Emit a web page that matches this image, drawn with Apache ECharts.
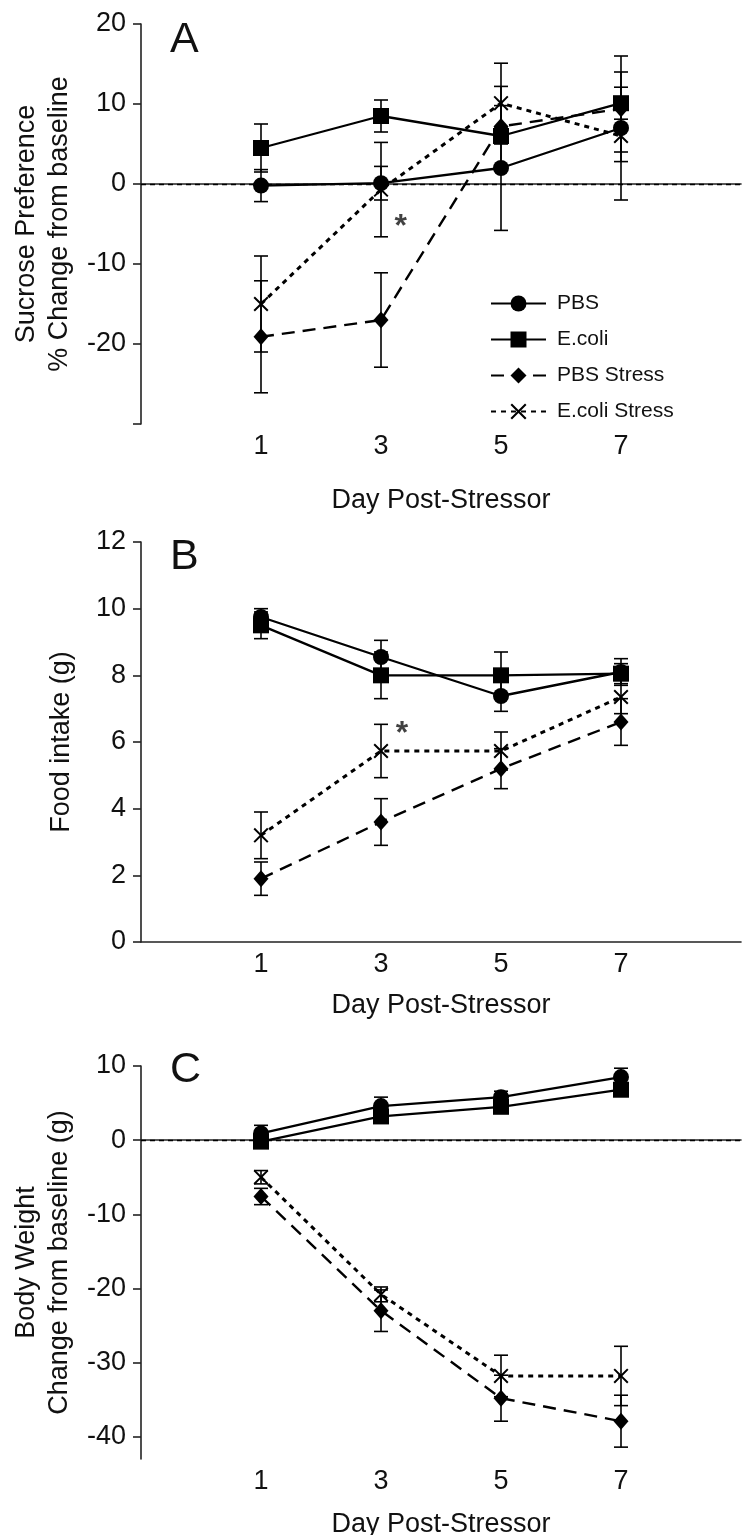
<!DOCTYPE html>
<html><head><meta charset="utf-8">
<script src="https://cdn.jsdelivr.net/npm/echarts@6/dist/echarts.min.js"></script>
<style>html,body{margin:0;padding:0;background:#fff}#c{width:742px;height:1535px}</style>
</head><body><div id="c"></div>
<script>
// ---------- data ----------
const days = [1, 3, 5, 7];
const seriesNames = ['PBS', 'E.coli', 'PBS Stress', 'E.coli Stress'];
const xTickValues = [1, 3, 5, 7];
const xTitle = 'Day Post-Stressor';
const panelLetters = ['A', 'B', 'C'];

// Panel A: sucrose preference (% change from baseline)
const sucPBS = [-0.2, 0.1, 2.0, 7.0];
const sucPBSErr = [2.0, 2.1, 7.8, 3.0];
const sucEcoli = [4.5, 8.5, 6.0, 10.1];
const sucEcoliErr = [3.0, 2.0, 1.0, 2.0];
const sucPBSStress = [-19.1, -17.0, 7.2, 9.4];
const sucPBSStressErr = [7.0, 5.9, 5.0, 6.6];
const sucEcoliStress = [-15.0, -0.7, 10.1, 6.0];
const sucEcoliStressErr = [6.0, 5.9, 5.0, 8.0];
const sucYTicks = [-30, -20, -10, 0, 10, 20];
const sucYLabels = [-20, -10, 0, 10, 20];
const sucTitle = 'Sucrose Preference\n% Change from baseline';
const sucStar = [3.33, -4.6];

// Panel B: food intake (g)
const foodPBS = [9.75, 8.55, 7.38, 8.1];
const foodPBSErr = [0.25, 0.5, 0.46, 0.4];
const foodEcoli = [9.5, 8.0, 8.0, 8.05];
const foodEcoliErr = [0.4, 0.7, 0.7, 0.3];
const foodPBSStress = [1.9, 3.6, 5.2, 6.6];
const foodPBSStressErr = [0.5, 0.7, 0.6, 0.7];
const foodEcoliStress = [3.2, 5.73, 5.73, 7.35];
const foodEcoliStressErr = [0.7, 0.8, 0.57, 0.5];
const foodYTicks = [0, 2, 4, 6, 8, 10, 12];
const foodYLabels = [0, 2, 4, 6, 8, 10, 12];
const foodTitle = 'Food intake (g)';
const foodStar = [3.35, 6.4];

// Panel C: body weight change from baseline (g)
const bwPBS = [0.9, 4.6, 5.8, 8.5];
const bwPBSErr = [1.1, 1.2, 0.8, 1.2];
const bwEcoli = [-0.2, 3.2, 4.5, 6.8];
const bwEcoliErr = [0.6, 0.6, 0.6, 0.6];
const bwPBSStress = [-7.6, -23.0, -34.8, -37.9];
const bwPBSStressErr = [1.1, 2.8, 3.1, 3.5];
const bwEcoliStress = [-5.0, -20.8, -31.8, -31.8];
const bwEcoliStressErr = [0.9, 1.0, 2.8, 4.0];
const bwYTicks = [-40, -30, -20, -10, 0, 10];
const bwYLabels = [-40, -30, -20, -10, 0, 10];
const bwTitle = 'Body Weight\nChange from baseline (g)';

// ---------- styling ----------
const FONT = '"Liberation Sans", Arial, Helvetica, sans-serif';
const INK = '#111';
const X_PATH = 'path://M0,1.3 L1.3,0 L7,5.7 L12.7,0 L14,1.3 L8.3,7 L14,12.7 L12.7,14 L7,8.3 L1.3,14 L0,12.7 L5.7,7 Z';
const STY = {
  'PBS': {symbol: 'circle', size: 16, type: 'solid', width: 2.3},
  'E.coli': {symbol: 'rect', size: 16, type: 'solid', width: 2.3},
  'PBS Stress': {symbol: 'diamond', size: [15, 17], type: [13, 8], width: 2.4},
  'E.coli Stress': {symbol: X_PATH, size: 15, type: [5, 5], width: 3}
};

const panels = [
  {vals: [sucPBS, sucEcoli, sucPBSStress, sucEcoliStress],
   errs: [sucPBSErr, sucEcoliErr, sucPBSStressErr, sucEcoliStressErr],
   min: -30, max: 20, ticks: sucYTicks, labels: sucYLabels, title: sucTitle, nameGap: 65,
   grid: {left: 141, top: 24, width: 600, height: 400}, xNameGap: 63, zero: true, star: sucStar, letterTop: 19},
  {vals: [foodPBS, foodEcoli, foodPBSStress, foodEcoliStress],
   errs: [foodPBSErr, foodEcoliErr, foodPBSStressErr, foodEcoliStressErr],
   min: 0, max: 12, ticks: foodYTicks, labels: foodYLabels, title: foodTitle, nameGap: 63,
   grid: {left: 141, top: 542, width: 600, height: 400}, xNameGap: 50, zero: false, star: foodStar, letterTop: 536},
  {vals: [bwPBS, bwEcoli, bwPBSStress, bwEcoliStress],
   errs: [bwPBSErr, bwEcoliErr, bwPBSStressErr, bwEcoliStressErr],
   min: -43, max: 10, ticks: bwYTicks, labels: bwYLabels, title: bwTitle, nameGap: 61,
   grid: {left: 141, top: 1066, width: 600, height: 393}, xNameGap: 52, zero: true, star: null, letterTop: 1049}
];

const grids = [], xAxes = [], yAxes = [], series = [], titles = [];
panels.forEach((p, pi) => {
  grids.push(Object.assign({outerBoundsMode: 'none', containLabel: false}, p.grid));
  titles.push({text: panelLetters[pi], left: 170, top: p.letterTop, padding: 0,
    textStyle: {fontFamily: FONT, fontSize: 43, fontWeight: 'normal', color: INK}});
  xAxes.push({
    type: 'value', gridIndex: pi, min: -1, max: 9,
    name: xTitle, nameLocation: 'middle', nameGap: p.xNameGap,
    nameTextStyle: {fontFamily: FONT, fontSize: 27, color: INK},
    axisLine: {show: true, lineStyle: {color: '#222', width: 1.6}},
    axisTick: {show: false},
    axisLabel: {customValues: xTickValues, margin: 9, fontFamily: FONT, fontSize: 27, color: INK},
    splitLine: {show: false}
  });
  yAxes.push({
    type: 'value', gridIndex: pi, min: p.min, max: p.max,
    name: p.title, nameLocation: 'middle', nameGap: p.nameGap,
    nameTextStyle: {fontFamily: FONT, fontSize: 27, color: INK, lineHeight: 33},
    axisLine: {show: true, onZero: false, lineStyle: {color: '#222', width: 1.6}},
    axisTick: {show: true, customValues: p.ticks, length: 8, inside: false, lineStyle: {color: '#222', width: 1.6}},
    axisLabel: {customValues: p.labels, margin: 15, fontFamily: FONT, fontSize: 27, color: INK},
    splitLine: {show: false}
  });
  seriesNames.forEach((nm, si) => {
    const st = STY[nm];
    const s = {
      type: 'line', name: nm, xAxisIndex: pi, yAxisIndex: pi,
      data: days.map((d, i) => [d, p.vals[si][i]]),
      symbol: st.symbol, symbolSize: st.size, showSymbol: true,
      lineStyle: {color: '#000', width: st.width, type: st.type},
      itemStyle: {color: '#000', borderWidth: 0},
      z: 3, animation: false, silent: true
    };
    if (si === 0 && p.zero) {
      s.markLine = {silent: true, symbol: 'none', label: {show: false}, animation: false,
        lineStyle: {color: '#000', width: 1.3, type: [5, 4]}, data: [{yAxis: 0}]};
    }
    series.push(s);
    series.push({
      type: 'custom', name: nm + ' SEM', xAxisIndex: pi, yAxisIndex: pi,
      data: days.map((d, i) => [d, p.vals[si][i], p.errs[si][i]]),
      z: 2, animation: false, silent: true,
      renderItem: (params, api) => {
        const x = api.value(0), y = api.value(1), e = api.value(2);
        const t = api.coord([x, y + e]);
        const b = api.coord([x, y - e]);
        const hw = 7;
        const style = {stroke: '#000', lineWidth: 1.6};
        return {type: 'group', children: [
          {type: 'line', shape: {x1: t[0], y1: t[1], x2: b[0], y2: b[1]}, style},
          {type: 'line', shape: {x1: t[0] - hw, y1: t[1], x2: t[0] + hw, y2: t[1]}, style},
          {type: 'line', shape: {x1: b[0] - hw, y1: b[1], x2: b[0] + hw, y2: b[1]}, style}
        ]};
      }
    });
  });
  if (p.star) {
    series.push({
      type: 'scatter', name: 'sig', xAxisIndex: pi, yAxisIndex: pi,
      data: [p.star], symbolSize: 1, itemStyle: {color: 'rgba(0,0,0,0)'},
      animation: false, silent: true, z: 5,
      label: {show: true, formatter: '*', position: 'inside', offset: [0, 6],
        fontFamily: FONT, fontSize: 32, fontWeight: 'bold', color: INK}
    });
  }
});

const chart = echarts.init(document.getElementById('c'), null, {renderer: 'canvas'});
chart.setOption({
  backgroundColor: '#fff',
  animation: false,
  title: titles,
  grid: grids,
  xAxis: xAxes,
  yAxis: yAxes,
  legend: {
    data: seriesNames, orient: 'vertical', left: 485, top: 288,
    itemWidth: 55, itemHeight: 20, itemGap: 15, selectedMode: false,
    textStyle: {fontFamily: FONT, fontSize: 21, color: INK, padding: [0, 0, 0, 6]}
  },
  series: series
});
</script></body></html>
